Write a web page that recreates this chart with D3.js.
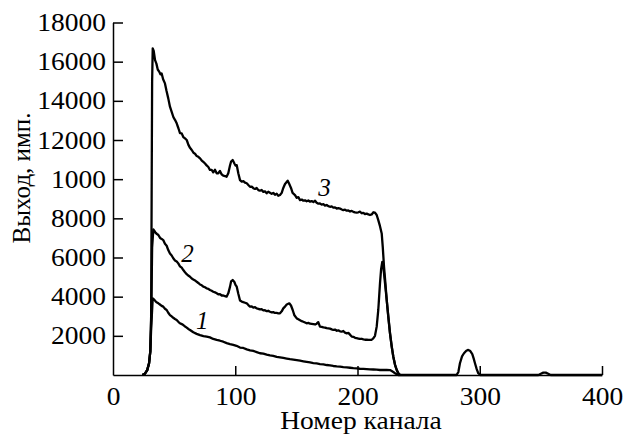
<!DOCTYPE html>
<html>
<head>
<meta charset="utf-8">
<script src="https://cdn.jsdelivr.net/npm/d3@7"></script>
<style>
  body { margin: 0; background: #fff; font-family: "Liberation Serif", serif; }
</style>
</head>
<body>
<div id="chart"></div>
<script>
// channel, counts
var curve1 = [[24,0],[26,60],[28,250],[29.5,600],[30.5,1200],[31.3,2500],[32.5,3910],[33.7,3850],[35,3750],[36,3700],[37.1,3660],[38.4,3600],[39.8,3530],[41.1,3490],[42.5,3380],[43.9,3320],[45.2,3180],[46.6,3060],[48,2990],[49.3,2920],[50.7,2860],[52.1,2810],[53.4,2720],[54.8,2640],[56.2,2600],[57.5,2550],[58.9,2480],[60.3,2420],[61.6,2350],[63,2300],[65.7,2180],[68.4,2100],[71.2,2040],[74,1990],[76.6,1960],[79.3,1920],[82,1840],[84.8,1790],[87.5,1750],[90.2,1700],[93,1630],[95.7,1580],[98.4,1540],[101,1490],[103.9,1400],[106.6,1380],[109.4,1310],[112.1,1260],[114.8,1230],[117.5,1170],[120.2,1110],[123,1090],[125.7,1040],[128.4,1000],[131.1,980],[133.9,930],[136.6,900],[139.3,870],[142.1,840],[144.8,810],[147.5,790],[150.3,760],[153,730],[155.7,700],[158.4,670],[161.2,640],[163.9,610],[166.6,590],[169.3,560],[172.1,540],[174.8,510],[177.5,490],[180.2,460],[183,440],[185.7,425],[188.4,400],[191.2,390],[193.9,370],[196.6,350],[199.3,340],[202,320],[204.8,310],[207.5,300],[210.2,290],[213,280],[215.7,270],[218.4,255],[221.1,260],[223.9,255],[226.6,250],[228,200],[229.3,150],[230.7,90],[232.1,40],[233.4,0],[281,0],[282.5,150],[283.8,600],[285.5,950],[287.1,1110],[289,1240],[290.6,1280],[292.3,1220],[293.9,1070],[295,850],[296.1,600],[297.5,300],[298.8,90],[300.5,0],[348,0],[350,60],[352,120],[354,120],[356,60],[358,0],[400,0]];

var curve2 = [[24,0],[26,60],[28,250],[29.5,600],[30.5,1200],[31.3,3000],[32,6500],[33,7440],[34,7350],[35,7250],[36,7200],[37.1,7150],[38.5,7000],[39.8,6950],[41.1,6890],[42.5,6700],[43.9,6600],[45.2,6380],[46.6,6200],[48,6100],[49.3,5960],[50.7,5850],[52.1,5800],[53.4,5700],[54.8,5550],[56.2,5480],[57.5,5360],[58.9,5250],[60.3,5150],[61.6,5080],[63,5020],[64.4,4930],[65.7,4880],[67.1,4830],[68.5,4760],[69.8,4700],[71.2,4620],[72.6,4580],[73.9,4510],[75.3,4480],[76.6,4420],[78,4400],[79.3,4340],[80.7,4300],[82,4250],[83.4,4220],[84.8,4170],[86.1,4120],[87.5,4130],[88.9,4060],[90.2,4060],[91.6,4030],[92.9,4000],[94.3,4170],[95.7,4500],[96.6,4780],[97.9,4850],[99.3,4750],[100.2,4600],[101.2,4510],[102.5,4150],[103.9,3800],[105.3,3750],[106.6,3720],[108,3690],[109.4,3660],[110.7,3570],[112.1,3490],[113.5,3500],[114.8,3440],[116.2,3460],[117.5,3400],[118.9,3380],[120.2,3350],[121.6,3360],[123,3300],[124.3,3310],[125.7,3260],[127,3280],[128.4,3230],[129.8,3200],[131.1,3210],[132.5,3170],[133.9,3170],[135.2,3150],[136.6,3150],[138,3250],[139.3,3400],[140.7,3490],[142.1,3600],[144.2,3660],[145.6,3550],[147,3320],[148.4,3050],[150.3,2890],[151.6,2850],[153,2800],[154.4,2750],[155.7,2720],[157.1,2680],[158.4,2640],[159.8,2660],[161.2,2620],[162.5,2610],[163.9,2600],[165.3,2580],[166.6,2620],[167.9,2700],[169.3,2470],[170.7,2460],[172.1,2430],[173.4,2420],[174.8,2390],[176.1,2380],[177.5,2370],[178.9,2330],[180.2,2300],[181.6,2320],[183,2260],[184.3,2280],[185.7,2230],[187.1,2210],[188.4,2250],[189.8,2160],[191.2,2130],[192.5,2150],[193.9,2060],[195.3,1960],[196.6,1950],[198,1900],[199.3,1880],[200.7,1860],[202,1840],[203.4,1850],[204.8,1820],[206.1,1800],[207.5,1810],[208.9,1790],[210.2,1790],[211.6,1800],[212.9,1870],[214.3,2000],[215.7,2470],[217,3320],[218.4,4680],[219.3,5400],[220.3,5780],[221.1,5500],[221.7,5190],[222.8,4500],[223.9,3830],[225.2,2980],[226.6,2130],[228,1450],[229.3,930],[230.7,520],[232.1,255],[233.4,90],[234.8,0]];

var curve3 = [[24,0],[26,60],[28,250],[29.5,600],[30.5,1200],[31.2,3000],[31.6,9000],[32,15000],[32.5,16680],[33.3,16550],[34.4,16080],[35.5,15900],[36.6,15600],[37.9,15480],[38.8,15350],[39.8,15400],[41,15100],[42.5,14890],[43.8,14500],[45.2,14125],[46.6,13700],[48,13440],[49.5,13150],[50.8,13020],[52.1,12850],[53.5,12600],[54.8,12350],[56.2,12340],[57.5,12150],[58.9,12080],[60.3,12000],[61.7,11750],[63,11600],[64.4,11490],[65.8,11350],[67.1,11300],[68.5,11180],[69.8,11140],[71.2,11060],[72.6,10950],[73.9,10880],[75.3,10800],[76.6,10700],[78,10620],[79.3,10470],[80.7,10470],[82,10350],[83.4,10480],[84.8,10300],[86.1,10300],[87.5,10420],[88.8,10250],[90.2,10180],[91.6,10160],[92.9,10120],[94.3,10300],[95.7,10700],[96.6,10900],[97.9,10980],[99.3,10800],[100.2,10700],[101.2,10720],[102.5,10300],[103.9,9950],[105.3,9870],[106.6,9900],[108,9820],[109.4,9790],[110.7,9700],[112.1,9610],[113.5,9620],[114.8,9540],[116.2,9500],[117.5,9550],[118.9,9440],[120.2,9410],[121.6,9450],[123,9350],[124.3,9380],[125.7,9280],[127,9360],[128.4,9310],[129.8,9250],[131.1,9300],[132.5,9200],[133.9,9260],[135.2,9150],[136.6,9190],[138,9300],[139.3,9550],[140.7,9750],[142.9,9920],[144.2,9750],[145.6,9550],[146.9,9300],[148.9,9190],[150.3,9050],[151.6,9080],[153,8930],[154.4,8960],[155.7,8900],[157.1,8920],[158.4,8870],[159.8,8910],[161.2,8850],[162.5,8880],[163.9,8830],[165.3,8900],[166.6,8800],[168,8750],[169.3,8760],[170.7,8700],[172.1,8720],[173.4,8650],[174.8,8680],[176.1,8620],[177.5,8590],[178.9,8610],[180.2,8550],[181.6,8560],[183,8500],[184.3,8520],[185.7,8500],[187.1,8450],[188.4,8420],[189.8,8440],[191.2,8390],[192.5,8400],[193.9,8350],[195.3,8380],[196.6,8330],[198,8300],[199.3,8290],[200.7,8310],[202,8340],[203.4,8260],[204.8,8280],[206.1,8220],[207.5,8240],[208.9,8200],[210.2,8170],[211.6,8200],[213,8310],[214.3,8290],[215.7,8170],[217,7910],[218.4,7600],[219.8,7230],[220.7,6500],[221.7,5530],[222.8,4700],[223.9,3830],[225.2,2980],[226.6,2130],[228,1450],[229.3,930],[230.7,520],[232.1,255],[233.4,90],[234.8,0]];

var curveNames = ["1", "2", "3"];
var xTicks = [0, 100, 200, 300, 400];
var yTicks = [2000, 4000, 6000, 8000, 10000, 12000, 14000, 16000, 18000];
var yTickLabels = ["2000", "4000", "6000", "8000", "1000", "12000", "14000", "16000", "18000"];

var w = 633;
var h = 434;
var margin = {top: 22.5, right: 31, bottom: 59, left: 113};
var serif = '"Liberation Serif"';

var svg = d3.select("#chart")
            .append("svg")
            .attr("width", w)
            .attr("height", h);

var x = d3.scaleLinear()
          .domain([0, 400])
          .range([margin.left, w - margin.right]);

var y = d3.scaleLinear()
          .domain([0, 18000])
          .range([h - margin.bottom, margin.top]);

// inward ticks on both axes
var xAxis = d3.axisBottom(x)
              .tickValues(xTicks)
              .tickSize(-9)
              .tickSizeOuter(0)
              .tickPadding(12);

var yAxis = d3.axisLeft(y)
              .tickValues(yTicks)
              .tickSize(-10)
              .tickSizeOuter(0)
              .tickPadding(7)
              .tickFormat(function(d, i) { return yTickLabels[i]; });

var gx = svg.append("g")
            .attr("transform", "translate(0," + y(0) + ")")
            .call(xAxis);

var gy = svg.append("g")
            .attr("transform", "translate(" + x(0) + ",0)")
            .call(yAxis);

gx.selectAll(".tick line").filter(function(d) { return d === 0; }).remove();
[gx, gy].forEach(function(g) {
    g.attr("font-family", null).attr("font-size", null);
    g.select(".domain").attr("stroke", "#000").attr("stroke-width", 1.5);
    g.selectAll(".tick line").attr("stroke", "#000").attr("stroke-width", 1.5);
    g.selectAll(".tick text")
     .attr("class", "wide")
     .style("font-family", serif)
     .style("font-size", "25px")
     .attr("fill", "#000");
});

var line = d3.line()
             .x(function(d) { return x(d[0]); })
             .y(function(d) { return y(d[1]); });

[curve1, curve2, curve3].forEach(function(c) {
    svg.append("path")
       .datum(c)
       .attr("fill", "none")
       .attr("stroke", "#000")
       .attr("stroke-width", 2.3)
       .attr("stroke-linejoin", "round")
       .attr("d", line);
});

// curve numbers, placed in data units next to each curve
var labelPos = [[73, 2350], [61, 5750], [173, 9150]];
svg.selectAll("text.curve")
   .data(curveNames)
   .enter()
   .append("text")
   .attr("class", "curve")
   .attr("x", function(d, i) { return x(labelPos[i][0]); })
   .attr("y", function(d, i) { return y(labelPos[i][1]); })
   .attr("text-anchor", "middle")
   .style("font-family", serif)
   .style("font-size", "25px")
   .style("font-style", "italic")
   .text(function(d) { return d; });

svg.append("text")
   .attr("class", "wide")
   .attr("x", 361)
   .attr("y", 429)
   .attr("text-anchor", "middle")
   .style("font-family", serif)
   .style("font-size", "25px")
   .text("Номер канала");

svg.append("text")
   .attr("transform", "translate(30,178) rotate(-90)")
   .attr("text-anchor", "middle")
   .style("font-family", serif)
   .style("font-size", "25px")
   .text("Выход, имп.");

// the source figure is a little stretched sideways
svg.selectAll("text.wide").each(function() {
    var len = this.getComputedTextLength();
    d3.select(this)
      .attr("textLength", len * 1.1)
      .attr("lengthAdjust", "spacingAndGlyphs");
});
</script>
</body>
</html>
